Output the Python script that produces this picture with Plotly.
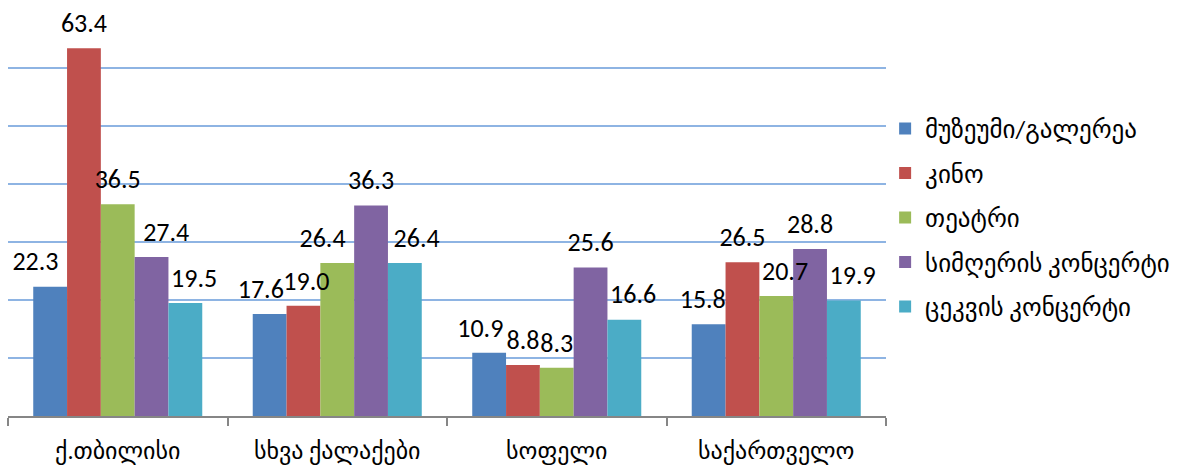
import plotly.graph_objects as go

categories = ["ქ.თბილისი", "სხვა ქალაქები", "სოფელი", "საქართველო"]
series_names = ["მუზეუმი/გალერეა", "კინო", "თეატრი", "სიმღერის კონცერტი", "ცეკვის კონცერტი"]
museum = [22.3, 17.6, 10.9, 15.8]
cinema = [63.4, 19.0, 8.8, 26.5]
theatre = [36.5, 26.4, 8.3, 20.7]
song = [27.4, 36.3, 25.6, 28.8]
dance = [19.5, 26.4, 16.6, 19.9]
values = [museum, cinema, theatre, song, dance]
colors = ["#4F81BD", "#C0504D", "#9BBB59", "#8064A2", "#4BACC6"]

# label nudges (in padding spaces; negative = shift label left, positive = right)
label_nudge = [
    [-5, -3, -3, -2],
    [0, 1, 0, 0],
    [0, -5, 0, 3],
    [5, 0, 0, 0],
    [3, 4, 3, 3],
]

FONT = "Calibri, Carlito, 'Liberation Sans', 'DejaVu Sans', sans-serif"
NB = "\u00a0"
GAP = 0.23


def label(v, n):
    s = f"{v:.1f}"
    if n < 0:
        s = s + NB * (-n)
    elif n > 0:
        s = NB * n + s
    return s


fig = go.Figure()
for i, (name, vals, col) in enumerate(zip(series_names, values, colors)):
    fig.add_trace(go.Bar(
        x=categories, y=vals, name=name,
        marker=dict(color=col, line=dict(width=0)),
        offsetgroup=str(i), legendgroup=str(i), hoverinfo="skip",
    ))
for i, (name, vals) in enumerate(zip(series_names, values)):
    fig.add_trace(go.Scatter(
        x=categories, y=vals, mode="markers+text",
        marker=dict(size=14, opacity=0),
        text=[label(v, n) for v, n in zip(vals, label_nudge[i])],
        textposition="top center", cliponaxis=False,
        textfont=dict(size=26, color="#000000", family=FONT),
        offsetgroup=str(i), showlegend=False, hoverinfo="skip",
    ))

fig.update_layout(
    width=1182, height=472,
    margin=dict(l=8, r=296, t=10, b=56, autoexpand=False),
    barmode="group", bargap=GAP, bargroupgap=0,
    scattermode="group", scattergap=GAP,
    plot_bgcolor="white", paper_bgcolor="white",
    font=dict(family=FONT, size=20, color="#000000"),
    showlegend=True,
    legend=dict(x=0.999, y=0.488, xanchor="left", yanchor="middle",
                font=dict(size=25, family=FONT), tracegroupgap=9,
                itemwidth=30, bgcolor="rgba(0,0,0,0)"),
)
fig.update_xaxes(
    showline=True, linecolor="#868686", linewidth=1.5,
    ticks="outside", tickson="boundaries", ticklen=8, tickcolor="#868686", tickwidth=1.5,
    tickfont=dict(size=24, family=FONT), showgrid=False, automargin=False,
    ticklabelstandoff=12,
)
fig.update_yaxes(
    range=[0, 70], dtick=10, showticklabels=False, showgrid=True,
    gridcolor="#8EB4E3", gridwidth=1.5, zeroline=False, showline=False, ticks="",
    automargin=False,
)

fig.write_html("out.html", config={"displayModeBar": False},
               post_script="document.body.style.margin='0';")
